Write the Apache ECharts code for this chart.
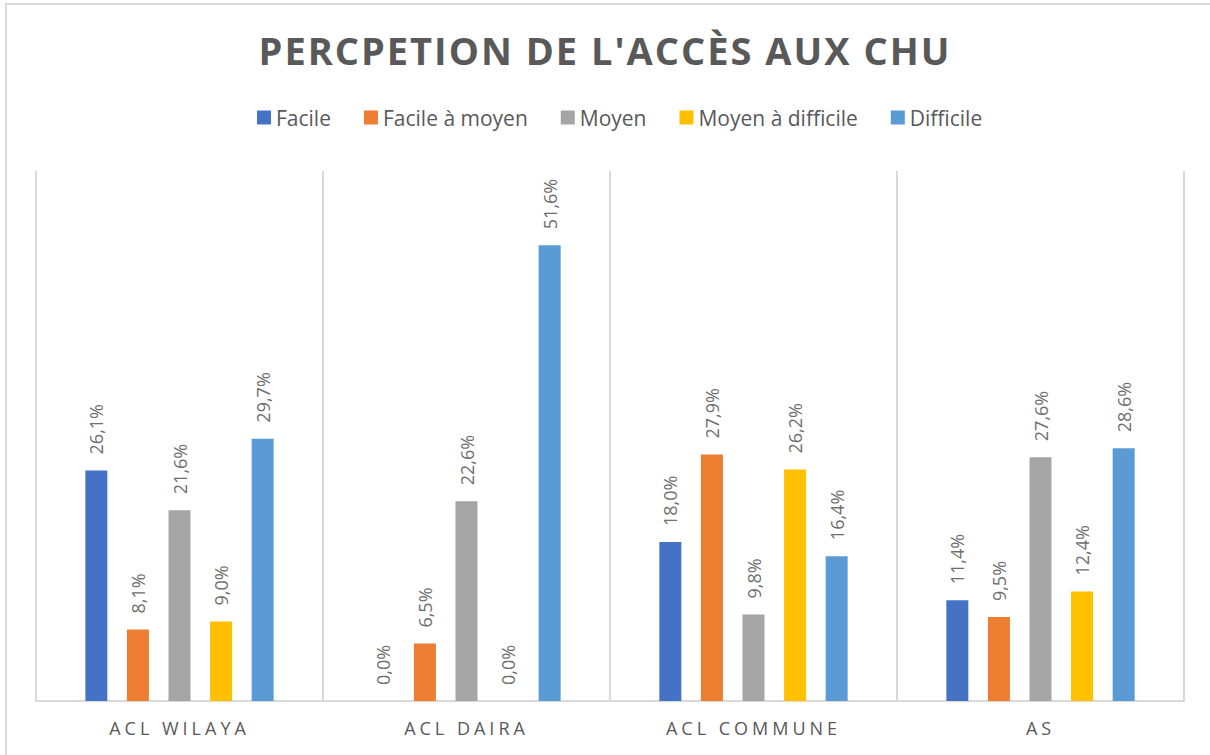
<!DOCTYPE html>
<html>
<head>
<meta charset="utf-8">
<script src="https://cdn.jsdelivr.net/npm/echarts@6/dist/echarts.min.js"></script>
<style>
  html, body { margin: 0; padding: 0; background: #ffffff; }
  #chart { width: 1210px; height: 755px; }
</style>
</head>
<body>
<div id="chart"></div>
<script>
// Chart content
const titleText = "PERCPETION DE L'ACCÈS AUX CHU";
const categories = ['ACL WILAYA', 'ACL DAIRA', 'ACL COMMUNE', 'AS'];
const seriesNames = ['Facile', 'Facile à moyen', 'Moyen', 'Moyen à difficile', 'Difficile'];
const facile = [26.1, 0.0, 18.0, 11.4];
const facileMoyen = [8.1, 6.5, 27.9, 9.5];
const moyen = [21.6, 22.6, 9.8, 27.6];
const moyenDifficile = [9.0, 0.0, 26.2, 12.4];
const difficile = [29.7, 51.6, 16.4, 28.6];
const colors = ['#4472C4', '#ED7D31', '#A5A5A5', '#FFC000', '#5B9BD5'];

const values = [facile, facileMoyen, moyen, moyenDifficile, difficile];
const FONT = '"Open Sans", "Noto Sans", sans-serif';

const dom = document.getElementById('chart');
const chart = echarts.init(dom, null, { renderer: 'svg' });

const series = seriesNames.map((name, i) => ({
  name: name,
  type: 'bar',
  data: values[i],
  barWidth: 22,
  barGap: '89%',
  itemStyle: { color: colors[i] },
  label: {
    show: true,
    position: 'top',
    distance: 16,
    rotate: 90,
    align: 'left',
    verticalAlign: 'middle',
    color: '#6f6f6f',
    fontFamily: FONT,
    fontSize: 18,
    formatter: p => p.value.toFixed(1).replace('.', ',') + '%'
  }
}));

chart.setOption({
  animation: false,
  backgroundColor: '#ffffff',
  title: {
    text: titleText,
    left: 'center',
    top: 26,
    textStyle: { color: '#595959', fontFamily: FONT, fontWeight: 'bold', fontSize: 38 }
  },
  legend: {
    data: seriesNames,
    top: 102,
    left: 252,
    itemWidth: 14,
    itemHeight: 14,
    itemGap: 33,
    icon: 'rect',
    textStyle: { color: '#595959', fontFamily: FONT, fontSize: 21 }
  },
  graphic: [{
    type: 'rect',
    shape: { x: 6, y: 4, width: 1260, height: 800 },
    style: { fill: null, stroke: '#d9d9d9', lineWidth: 2 },
    silent: true,
    z: -10
  }],
  grid: { left: 36, right: 26, top: 171, bottom: 54, containLabel: false },
  xAxis: {
    type: 'category',
    data: categories,
    axisLine: { show: true, lineStyle: { color: '#d9d9d9', width: 2 } },
    axisTick: { show: false },
    splitLine: { show: true, lineStyle: { color: '#d9d9d9', width: 2 } },
    axisLabel: { color: '#595959', fontFamily: FONT, fontSize: 18, margin: 18 }
  },
  yAxis: {
    type: 'value',
    min: 0,
    max: 60,
    show: false,
    splitLine: { show: false }
  },
  series: series
});

// Widen the tracking of the title and category names
function spaceOut() {
  dom.querySelectorAll('text').forEach(t => {
    const s = t.textContent;
    if (s === titleText) t.setAttribute('letter-spacing', '2');
    else if (categories.includes(s)) t.setAttribute('letter-spacing', '4');
  });
}
chart.on('finished', spaceOut);
spaceOut();
</script>
</body>
</html>
